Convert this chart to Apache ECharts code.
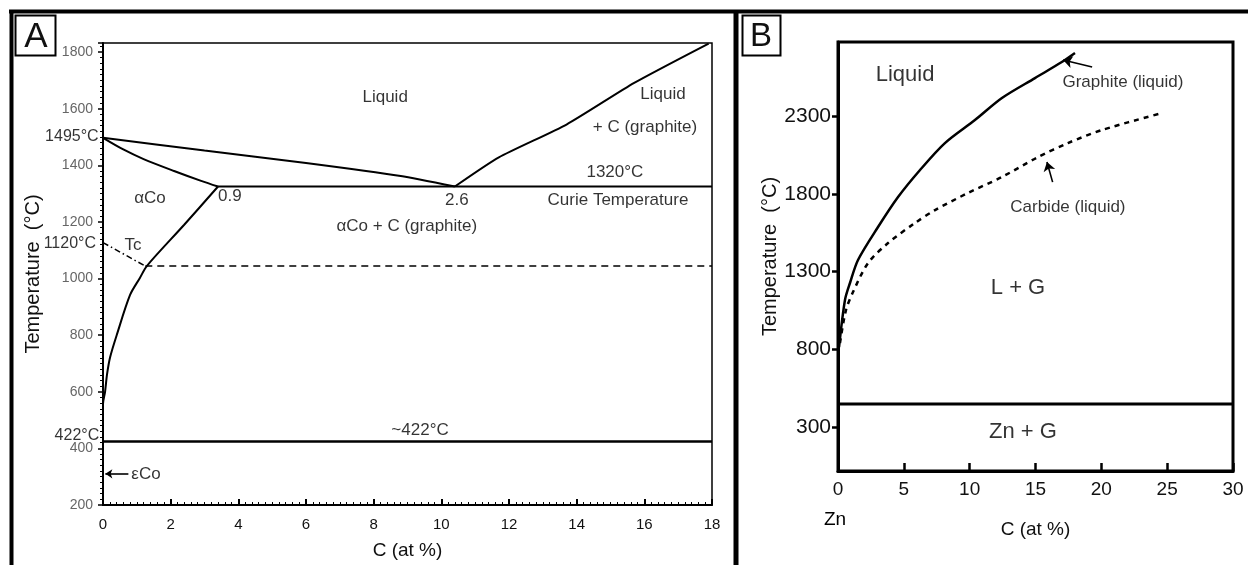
<!DOCTYPE html>
<html>
<head>
<meta charset="utf-8">
<script src="https://cdn.jsdelivr.net/npm/echarts@6/dist/echarts.min.js"></script>
<style>
  html, body { margin: 0; padding: 0; background: #fff; }
  #main { width: 1248px; height: 565px; }
</style>
</head>
<body>
<div id="main"></div>
<script>
// ---- panel A : Co-C phase diagram (C at%, temperature °C) ----
var aLiquidus = [[0, 1497], [3, 1452], [6, 1408], [8.8, 1362], [10.4, 1325]];
var aSolidus = [[0, 1497], [0.6, 1456], [1.2, 1422], [2.1, 1380], [2.9, 1345], [3.4, 1325]];
var aEutectic = [[3.4, 1325], [18, 1325]];
var aLiquidusC = [[10.4, 1325], [11.7, 1428], [13.7, 1544], [15.7, 1691], [17.9, 1830]];
var aSolvus = [[3.4, 1325], [2.4, 1190], [1.3, 1045], [1.09, 1002], [0.8, 942], [0.41, 802], [0.21, 722], [0.12, 662], [0.06, 599], [0, 557], [0, 424]];
var aCurie = [[0, 1127], [1.25, 1044]];
var aCurieFlat = [[1.25, 1044], [18, 1044]];
var aPeritectoid = [[0, 424], [18, 424]];
var aArrowEps = [[0.75, 310], [0.07, 310]];
var aNotes = [
  ["Liquid", 8.34, 1639], ["Liquid", 16.55, 1650], ["+ C (graphite)", 16.02, 1534],
  ["1320°C", 15.13, 1376], ["Curie Temperature", 15.22, 1275], ["2.6", 10.46, 1275],
  ["0.9", 3.75, 1292], ["αCo", 1.39, 1282], ["αCo + C (graphite)", 8.98, 1184],
  ["Tc", 0.89, 1117], ["~422°C", 9.37, 463], ["εCo", 1.27, 308]
];
var aEdgeNotes = [["1495°C", -0.92, 1500], ["1120°C", -0.98, 1125], ["422°C", -0.77, 445]];

// ---- panel B : Zn-C ----
var bGraphite = [[0.08, 814], [0.53, 1117], [0.91, 1226], [1.52, 1374], [3.04, 1586], [4.56, 1779], [6.23, 1953],
  [8.12, 2126], [10.4, 2274], [12.45, 2416], [14.96, 2544], [17.0, 2647], [18.0, 2705]];
var bCarbide = [[0.15, 840], [0.6, 1050], [1.14, 1168], [2.28, 1354], [3.8, 1483], [5.85, 1612], [7.37, 1695],
  [9.87, 1805], [12.45, 1908], [15.19, 2036], [17.46, 2126], [20.05, 2210], [24.6, 2319]];
var bZnLine = [[0, 448], [30, 448]];
var bArrowGraphite = [[19.3, 2615], [17.1, 2660]];
var bArrowCarbide = [[16.3, 1875], [15.87, 2004]];
var bTempTicks = [300, 800, 1300, 1800, 2300];
var bBigNotes = [["Liquid", 5.09, 2564], ["L + G", 13.67, 1194], ["Zn + G", 14.05, 268]];
var bSmallNotes = [["Graphite (liquid)", 21.64, 2519], ["Carbide (liquid)", 17.46, 1715]];
var bZnNote = ["Zn", -0.23, -298];

var FONT = "'Liberation Sans', Arial, sans-serif";
var chart = echarts.init(document.getElementById("main"));

function plain(v) { return String(v); }

function curve(data, xi, width, type, smooth) {
  return {
    type: "line", xAxisIndex: xi, yAxisIndex: xi, data: data,
    showSymbol: false, symbol: "none", smooth: smooth || 0, silent: true,
    lineStyle: { color: "#000", width: width, type: type || "solid" }
  };
}

function arrow(pts, xi, size) {
  return {
    type: "line", xAxisIndex: xi, yAxisIndex: xi, data: [], silent: true,
    markLine: {
      silent: true, symbol: ["none", "arrow"], symbolSize: size,
      label: { show: false },
      lineStyle: { color: "#000", width: 1.6, type: "solid" },
      data: [[{ coord: pts[0] }, { coord: pts[1] }]]
    }
  };
}

function notes(list, xi, size) {
  return {
    type: "scatter", xAxisIndex: xi, yAxisIndex: xi, silent: true, clip: false,
    symbolSize: 1, itemStyle: { color: "rgba(0,0,0,0)" },
    data: list.map(function (n) { return { value: [n[1], n[2]], name: n[0] }; }),
    label: {
      show: true, position: "inside", formatter: "{b}",
      color: "#000", fontSize: size, fontFamily: FONT
    }
  };
}

var frame = [
  // outer frame and panel divider
  { type: "line", shape: { x1: 9, y1: 11.5, x2: 1248, y2: 11.5 }, style: { stroke: "#000", lineWidth: 4 } },
  { type: "line", shape: { x1: 11.5, y1: 10, x2: 11.5, y2: 565 }, style: { stroke: "#000", lineWidth: 4 } },
  { type: "line", shape: { x1: 736, y1: 10, x2: 736, y2: 565 }, style: { stroke: "#000", lineWidth: 5 } },
  // panel letters
  { type: "rect", shape: { x: 15.5, y: 15.5, width: 40, height: 40 }, style: { fill: "#fff", stroke: "#000", lineWidth: 2 } },
  { type: "text", x: 36, y: 37, style: { text: "A", fontSize: 35, fontFamily: FONT, fill: "#111", align: "center", verticalAlign: "middle" } },
  { type: "rect", shape: { x: 742.5, y: 15.5, width: 38, height: 40 }, style: { fill: "#fff", stroke: "#000", lineWidth: 2 } },
  { type: "text", x: 761, y: 37, style: { text: "B", fontSize: 33, fontFamily: FONT, fill: "#111", align: "center", verticalAlign: "middle" } }
];

chart.setOption({
  animation: false,
  backgroundColor: "#fff",
  textStyle: { fontFamily: FONT },
  grid: [
    { left: 103, top: 43, width: 609, height: 466, show: true, borderColor: "#000", borderWidth: 1.5 },
    { left: 838, top: 42, width: 395, height: 429, show: true, borderColor: "#000", borderWidth: 3 }
  ],
  xAxis: [
    {
      gridIndex: 0, type: "value", min: 0, max: 18, interval: 2,
      name: "C (at %)", nameLocation: "middle", nameGap: 36,
      nameTextStyle: { color: "#111", fontSize: 19, fontFamily: FONT },
      axisLine: { lineStyle: { color: "#000", width: 2 } },
      axisTick: { inside: true, length: 6, lineStyle: { color: "#000", width: 2 } },
      minorTick: { show: true, splitNumber: 10, length: 3, lineStyle: { color: "#000", width: 1 } },
      axisLabel: { color: "#111", fontSize: 15, margin: 12, fontFamily: FONT, formatter: plain },
      splitLine: { show: false }
    },
    {
      gridIndex: 1, type: "value", min: 0, max: 30, interval: 5,
      name: "C (at %)", nameLocation: "middle", nameGap: 49,
      nameTextStyle: { color: "#111", fontSize: 19, fontFamily: FONT },
      axisLine: { lineStyle: { color: "#000", width: 3 } },
      axisTick: { inside: true, length: 8, lineStyle: { color: "#000", width: 2.5 } },
      axisLabel: { color: "#111", fontSize: 19, margin: 9, fontFamily: FONT, formatter: plain },
      splitLine: { show: false }
    }
  ],
  yAxis: [
    {
      gridIndex: 0, type: "value", min: 200, max: 1832, interval: 200,
      name: "Temperature  (°C)", nameLocation: "middle", nameGap: 60,
      nameTextStyle: { color: "#111", fontSize: 20, fontFamily: FONT },
      axisLine: { lineStyle: { color: "#000", width: 2 } },
      axisTick: { length: 5, lineStyle: { color: "#000", width: 1.5 } },
      minorTick: { show: true, splitNumber: 10, length: 3, lineStyle: { color: "#000", width: 1 } },
      axisLabel: { color: "#666", fontSize: 14, margin: 10, showMaxLabel: false, fontFamily: FONT, formatter: plain },
      splitLine: { show: false }
    },
    {
      gridIndex: 1, type: "value", min: 17, max: 2776,
      name: "Temperature  (°C)", nameLocation: "middle", nameGap: 57,
      nameTextStyle: { color: "#111", fontSize: 20, fontFamily: FONT },
      axisLine: { lineStyle: { color: "#000", width: 3 } },
      axisTick: { length: 6, customValues: bTempTicks, lineStyle: { color: "#000", width: 2.5 } },
      axisLabel: { color: "#111", fontSize: 21, margin: 7, customValues: bTempTicks, fontFamily: FONT, formatter: plain },
      splitLine: { show: false }
    }
  ],
  series: [
    curve(aLiquidus, 0, 2, "solid", 0.2),
    curve(aSolidus, 0, 2, "solid", 0.3),
    curve(aEutectic, 0, 2),
    curve(aLiquidusC, 0, 2, "solid", 0.2),
    curve(aSolvus, 0, 2, "solid", 0.3),
    curve(aCurie, 0, 1.5, [6, 3, 1.5, 3]),
    curve(aCurieFlat, 0, 1.5, [7, 5]),
    curve(aPeritectoid, 0, 2.5),
    arrow(aArrowEps, 0, 7),
    notes(aNotes, 0, 17),
    notes(aEdgeNotes, 0, 16),

    curve(bGraphite, 1, 2.5, "solid", 0.3),
    curve(bCarbide, 1, 2.5, [5, 5], 0.3),
    curve(bZnLine, 1, 3),
    arrow(bArrowGraphite, 1, 9),
    arrow(bArrowCarbide, 1, 9),
    notes(bBigNotes, 1, 22),
    notes(bSmallNotes, 1, 17)
  ],
  graphic: frame
});

// "Zn" sits below the B axis; place it from its data coordinate
var znPos = chart.convertToPixel({ gridIndex: 1 }, [bZnNote[1], bZnNote[2]]);
chart.setOption({
  graphic: frame.concat([{
    type: "text", x: znPos[0], y: znPos[1],
    style: { text: bZnNote[0], fontSize: 19, fontFamily: FONT, fill: "#000", align: "center", verticalAlign: "middle" }
  }])
});
</script>
</body>
</html>
